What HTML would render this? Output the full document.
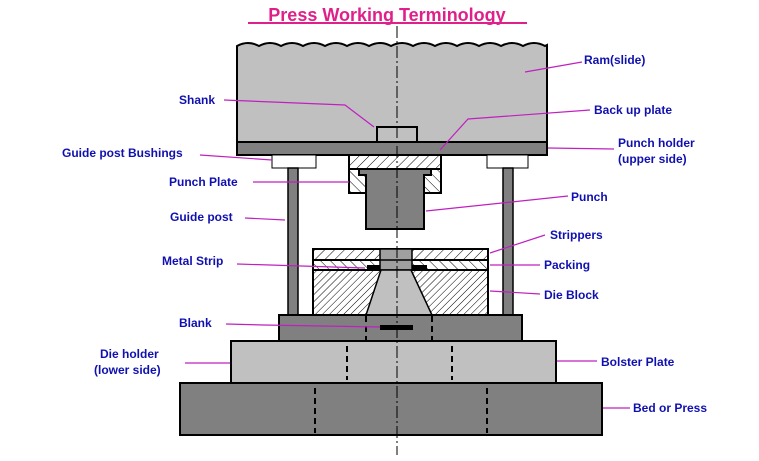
<!DOCTYPE html>
<html><head><meta charset="utf-8"><style>
body{margin:0;background:#fff}
svg{display:block}
text{font-family:"Liberation Sans",Arial,sans-serif;font-weight:bold;font-size:12px;fill:#1010b0}
.l{stroke:#c020c0;stroke-width:1.2;fill:none}
.o{stroke:#000;stroke-width:2}
</style></head><body>
<svg width="759" height="461" viewBox="0 0 759 461">
<defs>
<pattern id="h" width="7" height="7" patternUnits="userSpaceOnUse" patternTransform="rotate(45)">
<rect width="7" height="7" fill="#fff"/><line x1="0" y1="0" x2="0" y2="7" stroke="#000" stroke-width="1"/></pattern>
<pattern id="h2" width="7" height="7" patternUnits="userSpaceOnUse" patternTransform="rotate(-45)">
<rect width="7" height="7" fill="#fff"/><line x1="0" y1="0" x2="0" y2="7" stroke="#000" stroke-width="1"/></pattern>
<pattern id="h3" width="5" height="5" patternUnits="userSpaceOnUse" patternTransform="rotate(45)">
<rect width="5" height="5" fill="#fff"/><line x1="0" y1="0" x2="0" y2="5" stroke="#000" stroke-width="1"/></pattern>
</defs>
<text x="387" y="21" text-anchor="middle" style="font-size:18px;fill:#e0208a">Press Working Terminology</text>
<rect x="248" y="22" width="279" height="2" fill="#e0208a"/>
<!-- ram -->
<path class="o" fill="#c0c0c0" d="M237 143 V46 q11 -6 22 0 q11 -6 22 0 q11 -6 22 0 q11 -6 22 0 q11 -6 22 0 q11 -6 22 0 q11 -6 22 0 q11 -6 22 0 q11 -6 22 0 q11 -6 22 0 q11 -6 22 0 q11 -6 22 0 q11 -6 22 0 q11 -6 22 0 l2 -1 V143 Z"/>
<rect class="o" x="377" y="127" width="40" height="15" fill="#c0c0c0"/>
<rect class="o" x="237" y="142" width="310" height="13" fill="#808080"/>
<!-- bushings -->
<rect x="272" y="155" width="44" height="13" fill="#fff" stroke="#000"/>
<rect x="487" y="155" width="41" height="13" fill="#fff" stroke="#000"/>
<rect x="288" y="168" width="10" height="147" fill="#808080" stroke="#000" stroke-width="1.5"/>
<rect x="503" y="168" width="10" height="147" fill="#808080" stroke="#000" stroke-width="1.5"/>
<!-- backup & punch plate -->
<rect class="o" x="349" y="155" width="92" height="14" fill="url(#h)"/>
<rect class="o" x="349" y="169" width="92" height="24" fill="url(#h2)"/>
<path class="o" fill="#808080" d="M359 169 H431 V175 H424 V229 H366 V175 H359 Z"/>
<!-- stripper/packing/die -->
<rect class="o" x="313" y="249" width="175" height="11" fill="url(#h)"/>
<rect class="o" x="313" y="260" width="175" height="10" fill="url(#h2)"/>
<rect class="o" x="313" y="270" width="175" height="45" fill="url(#h3)"/>
<rect x="380" y="249" width="32" height="21" fill="#a0a0a0" stroke="#000" stroke-width="1.5"/>
<line x1="380" y1="260" x2="412" y2="260" stroke="#000" stroke-width="1.5"/>
<rect x="367" y="265" width="13" height="5" fill="#000"/>
<rect x="412" y="265" width="15" height="5" fill="#000"/>
<path d="M381 270 H411 L432 315 H366 Z" fill="#c0c0c0" stroke="#000" stroke-width="1.5"/>
<!-- die holder, bolster, bed -->
<rect class="o" x="279" y="315" width="243" height="26" fill="#808080"/>
<rect x="380" y="325" width="33" height="5" fill="#000"/>
<rect class="o" x="231" y="341" width="325" height="42" fill="#c0c0c0"/>
<rect class="o" x="180" y="383" width="422" height="52" fill="#808080"/>
<g stroke="#000" stroke-width="2" stroke-dasharray="6,4">
<line x1="366" y1="316" x2="366" y2="340"/><line x1="432" y1="316" x2="432" y2="340"/>
<line x1="347" y1="346" x2="347" y2="380"/><line x1="452" y1="346" x2="452" y2="380"/>
<line x1="315" y1="388" x2="315" y2="433"/><line x1="487" y1="388" x2="487" y2="433"/>
</g>
<line x1="397" y1="26" x2="397" y2="455" stroke="#000" stroke-width="1" stroke-dasharray="12,3,2,3"/>
<!-- leaders -->
<polyline class="l" points="224,100 345,105 374,127"/>
<polyline class="l" points="582,62 525,72"/>
<polyline class="l" points="590,110 468,119 440,150"/>
<polyline class="l" points="614,149 548,148"/>
<polyline class="l" points="200,155 272,160"/>
<polyline class="l" points="253,182 349,182"/>
<polyline class="l" points="245,218 285,220"/>
<polyline class="l" points="568,196 426,211"/>
<polyline class="l" points="545,235 490,253"/>
<polyline class="l" points="237,264 365,268"/>
<polyline class="l" points="540,265 490,265"/>
<polyline class="l" points="540,294 490,291"/>
<polyline class="l" points="226,324 264,325 380,327"/>
<polyline class="l" points="185,363 230,363"/>
<polyline class="l" points="597,361 557,361"/>
<polyline class="l" points="630,408 603,408"/>
<!-- labels -->
<text x="584" y="64">Ram(slide)</text>
<text x="179" y="104">Shank</text>
<text x="594" y="114">Back up plate</text>
<text x="618" y="147">Punch holder</text>
<text x="618" y="163">(upper side)</text>
<text x="62" y="157">Guide post Bushings</text>
<text x="169" y="186">Punch Plate</text>
<text x="170" y="221">Guide post</text>
<text x="571" y="201">Punch</text>
<text x="550" y="239">Strippers</text>
<text x="162" y="265">Metal Strip</text>
<text x="544" y="269">Packing</text>
<text x="544" y="299">Die Block</text>
<text x="179" y="327">Blank</text>
<text x="100" y="358">Die holder</text>
<text x="94" y="374">(lower side)</text>
<text x="601" y="366">Bolster Plate</text>
<text x="633" y="412">Bed or Press</text>
</svg>
</body></html>
